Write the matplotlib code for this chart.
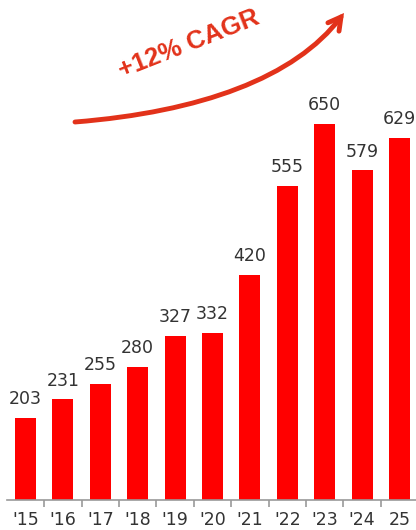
import matplotlib.pyplot as plt
import numpy as np
from matplotlib.patches import FancyArrowPatch
from matplotlib.path import Path

years = ["'15", "'16", "'17", "'18", "'19", "'20", "'21", "'22", "'23", "'24", "25"]
values = [203, 231, 255, 280, 327, 332, 420, 555, 650, 579, 629]
cagr_label = "+12% CAGR"

bar_red = "#ff0000"
accent = "#e2321a"

fig = plt.figure(figsize=(4.16, 5.30), dpi=100)
ax = fig.add_axes([7 / 416, 30 / 530, 409 / 416, 500 / 530])

x = np.arange(len(years))
ax.bar(x, values, width=0.56, color=bar_red, bottom=0)
for xi, v in zip(x, values):
    ax.annotate(str(v), (xi, v), xytext=(0, 7), textcoords="offset points",
                ha="center", va="bottom", fontsize=12.5, color="#333333")

ax.set_ylim(78, 838)
ax.set_xlim(-0.495, 10.44)
ax.set_xticks(x)
ax.set_xticklabels(years, fontsize=12.5, color="#333333")
ax.set_xticks(x[:-1] + 0.5, minor=True)
ax.tick_params(axis="x", which="major", length=0, pad=8)
ax.tick_params(axis="x", which="minor", length=5, color="#999999", width=1.2)
ax.set_yticks([])
for side in ["top", "right", "left"]:
    ax.spines[side].set_visible(False)
ax.spines["bottom"].set_color("#999999")
ax.spines["bottom"].set_linewidth(1.2)

# overlay in pixel coordinates for the growth arrow
ov = fig.add_axes([0, 0, 1, 1], facecolor="none")
ov.set_xlim(0, 416)
ov.set_ylim(530, 0)
ov.axis("off")

curve = Path([(75, 122), (200, 112), (295, 78), (344, 13)],
             [Path.MOVETO, Path.CURVE4, Path.CURVE4, Path.CURVE4])
arrow = FancyArrowPatch(path=curve, arrowstyle="->,head_length=9,head_width=5",
                        color=accent, linewidth=3.5, capstyle="round",
                        joinstyle="miter")
ov.add_patch(arrow)
ov.text(189, 44, cagr_label, rotation=21.5, ha="center", va="center",
        fontsize=18.5, fontweight="bold", color=accent,
        family="Liberation Sans")

fig.savefig("out.png", dpi=100)
